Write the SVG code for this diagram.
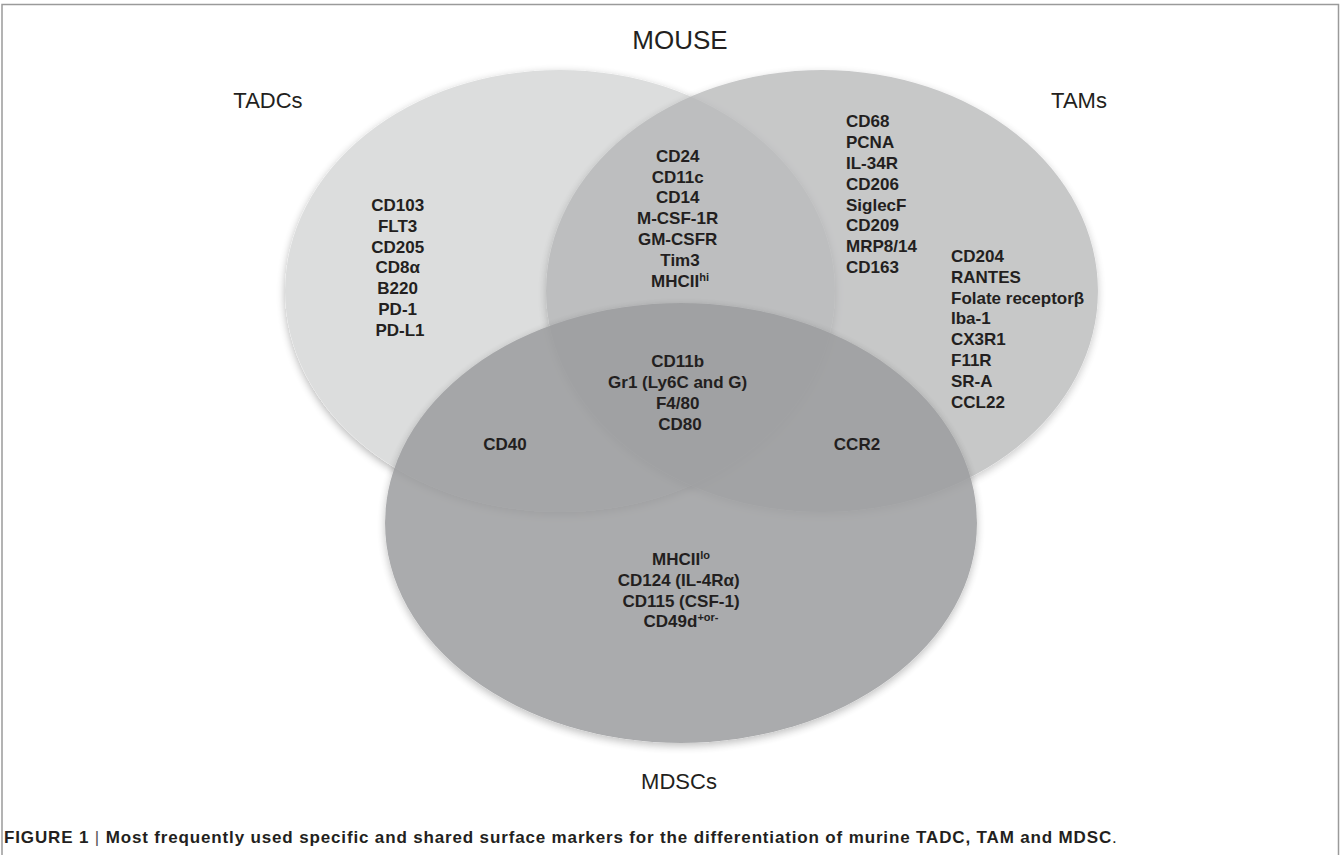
<svg xmlns="http://www.w3.org/2000/svg" width="1341" height="855" viewBox="0 0 1341 855">
<style>
.title{font-family:"Liberation Sans",Arial,sans-serif;font-size:22px;fill:#231f20;text-anchor:middle}
.mk{font-family:"Liberation Sans",Arial,sans-serif;font-size:17px;font-weight:bold;fill:#231f20}
.c{text-anchor:middle}
.sup{font-size:11px}
.cap{font-family:"Liberation Sans",Arial,sans-serif;font-size:17px;font-weight:bold;fill:#231f20;letter-spacing:0.85px}
.frame{stroke:#9a9a9a;stroke-width:1.5;fill:none}
</style>
<defs>
<filter id="sh" x="-10%" y="-10%" width="120%" height="125%">
<feGaussianBlur in="SourceAlpha" stdDeviation="4" result="b"/>
<feOffset in="b" dy="3" result="o"/>
<feComponentTransfer in="o" result="o2"><feFuncA type="linear" slope="0.3"/></feComponentTransfer>
<feComposite in="o2" in2="SourceAlpha" operator="out" result="s"/>
<feMerge><feMergeNode in="s"/><feMergeNode in="SourceGraphic"/></feMerge>
</filter>
</defs>
<rect width="1341" height="855" fill="#ffffff"/>
<path class="frame" d="M2,855 V4.5 H1338.5 V855"/>
<g id="shapes">
<ellipse id="e-tadc" cx="560" cy="291" rx="275" ry="221" fill="#dcdddd" filter="url(#sh)"/>
<ellipse id="e-tam" cx="822" cy="291" rx="276" ry="221" fill="#b2b3b4" opacity="0.72" filter="url(#sh)"/>
<ellipse id="e-mdsc" cx="681" cy="523" rx="296" ry="220" fill="#9c9d9f" opacity="0.85" filter="url(#sh)"/>
</g>
<text class="title" x="680" y="49" style="font-size:26px">MOUSE</text>
<g id="tadc">
<text class="title" x="268" y="108">TADCs</text>
<text class="mk c" x="400">
<tspan x="400" y="211">CD103</tspan>
<tspan x="400" y="231.8">FLT3</tspan>
<tspan x="400" y="252.6">CD205</tspan>
<tspan x="400" y="273.4">CD8α</tspan>
<tspan x="400" y="294.2">B220</tspan>
<tspan x="400" y="315">PD-1</tspan>
<tspan x="400" y="335.8">PD-L1</tspan>
</text>
</g>
<g id="tam">
<text class="title" x="1079" y="108">TAMs</text>
<text class="mk">
<tspan x="846" y="127.3">CD68</tspan>
<tspan x="846" y="148.1">PCNA</tspan>
<tspan x="846" y="168.9">IL-34R</tspan>
<tspan x="846" y="189.7">CD206</tspan>
<tspan x="846" y="210.5">SiglecF</tspan>
<tspan x="846" y="231.3">CD209</tspan>
<tspan x="846" y="252.1">MRP8/14</tspan>
<tspan x="846" y="272.9">CD163</tspan>
</text>
<text class="mk">
<tspan x="951" y="262">CD204</tspan>
<tspan x="951" y="282.8">RANTES</tspan>
<tspan x="951" y="303.6">Folate receptorβ</tspan>
<tspan x="951" y="324.4">Iba-1</tspan>
<tspan x="951" y="345.2">CX3R1</tspan>
<tspan x="951" y="366">F11R</tspan>
<tspan x="951" y="386.8">SR-A</tspan>
<tspan x="951" y="407.6">CCL22</tspan>
</text>
</g>
<g id="tadc-tam">
<text class="mk c" x="680">
<tspan x="680" y="161.7">CD24</tspan>
<tspan x="680" y="182.5">CD11c</tspan>
<tspan x="680" y="203.3">CD14</tspan>
<tspan x="680" y="224.1">M-CSF-1R</tspan>
<tspan x="680" y="244.9">GM-CSFR</tspan>
<tspan x="680" y="265.7">Tim3</tspan>
</text>
<text class="mk c" x="680" y="286.5">MHCII<tspan class="sup" dy="-6">hi</tspan></text>
</g>
<g id="all-three">
<text class="mk c" x="680">
<tspan x="680" y="367.3">CD11b</tspan>
<tspan x="680" y="388.1">Gr1 (Ly6C and G)</tspan>
<tspan x="680" y="408.9">F4/80</tspan>
<tspan x="680" y="429.7">CD80</tspan>
</text>
</g>
<g id="tadc-mdsc">
<text class="mk c" x="505" y="450">CD40</text>
</g>
<g id="tam-mdsc">
<text class="mk c" x="857" y="450">CCR2</text>
</g>
<g id="mdsc">
<text class="mk c" x="681" y="565">MHCII<tspan class="sup" dy="-6">lo</tspan></text>
<text class="mk c" x="681">
<tspan x="681" y="585.8">CD124 (IL-4Rα)</tspan>
<tspan x="681" y="606.6">CD115 (CSF-1)</tspan>
</text>
<text class="mk c" x="681" y="627.4">CD49d<tspan class="sup" dy="-6">+or-</tspan></text>
<text class="title" x="679" y="789">MDSCs</text>
</g>
<g id="connectors"/>
<text class="cap" x="4" y="843">FIGURE 1 <tspan font-weight="normal" fill="#555">|</tspan> Most frequently used specific and shared surface markers for the differentiation of murine TADC, TAM and MDSC<tspan font-weight="normal">.</tspan></text>
</svg>
